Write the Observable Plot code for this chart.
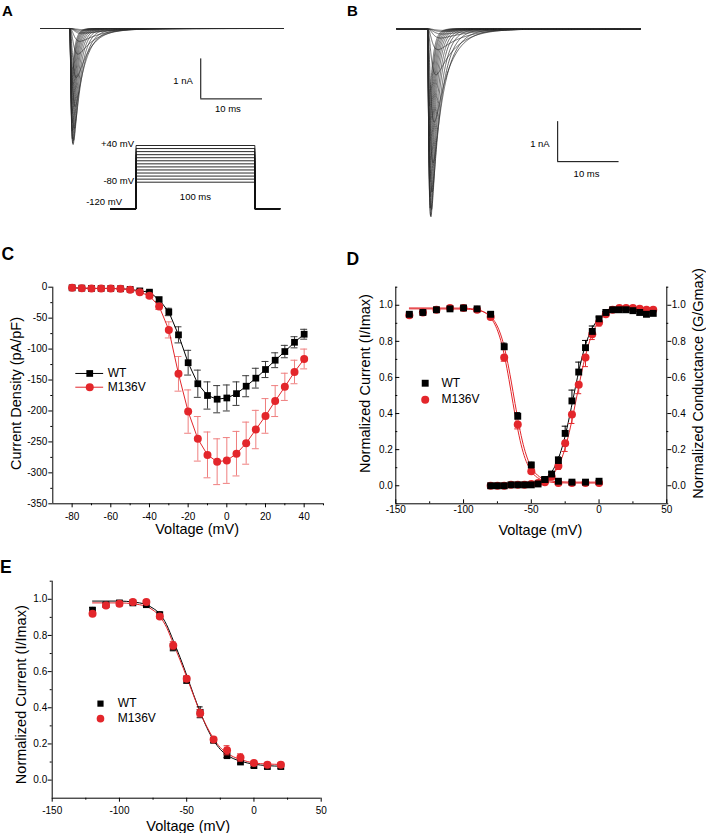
<!DOCTYPE html>
<html><head><meta charset="utf-8">
<script src="https://cdn.jsdelivr.net/npm/d3@7"></script>
<script src="https://cdn.jsdelivr.net/npm/@observablehq/plot@0.6"></script>
<style>
html,body{margin:0;padding:0;background:#fff;}
#fig{position:relative;width:706px;height:833px;overflow:hidden;font-family:"Liberation Sans",Arial,sans-serif;background:#fff;}
#fig > .panel{position:absolute;}
.plabel{position:absolute;font-weight:bold;line-height:1;font-family:"Liberation Sans",Arial,sans-serif;}
</style></head><body><div id="fig"></div>
<script>
// ---------------- DATA ----------------
const seriesNames = ["WT", "M136V"];
const panelLetters = ["A", "B", "C", "D", "E"];

// Panels A/B: current-trace families (one entry per test pulse)
const traceAmpA = [0.03,0.06,0.1,0.13,0.32,0.64,1.23,1.95,2.5,2.8,2.9,2.87,2.76,2.56,2.36,2.13,1.89,1.67,1.43,1.22];
const traceAmpB = [0.04,0.07,0.13,0.23,0.52,1.15,2.33,3.35,4.08,4.52,4.7,4.67,4.48,4.2,3.83,3.47,3.07,2.68,2.28,1.93];
const traceTauM = [0.9,0.85,0.8,0.7,0.55,0.45,0.36,0.3,0.25,0.22,0.19,0.17,0.15,0.14,0.13,0.12,0.11,0.1,0.1,0.09];
const traceTauHA = [6,5.5,5,4.2,3.4,2.7,2.1,1.65,1.35,1.12,0.97,0.86,0.78,0.72,0.66,0.62,0.58,0.55,0.52,0.5];
const traceTauHB = [7,6.3,5.7,4.8,3.9,3.1,2.4,1.9,1.55,1.3,1.12,1.0,0.9,0.82,0.76,0.71,0.67,0.63,0.6,0.57];
const scaleBarText = ["1 nA", "10 ms"];
// voltage protocol
const protocolLevels = [-80,-70,-60,-50,-40,-30,-20,-10,0,10,20,30,40];
const protocolHolding = -120;
const protocolDuration = 100;
const protocolTexts = ["+40 mV", "-80 mV", "-120 mV", "100 ms"];

// Panel C: I-V
const ivVoltage = [-80,-75,-70,-65,-60,-55,-50,-45,-40,-35,-30,-25,-20,-15,-10,-5,0,5,10,15,20,25,30,35,40];
const ivWT = [-1,-1.5,-2,-2,-2,-2.5,-3.5,-6,-8,-20,-40,-77,-122,-156,-175,-181,-179,-172,-160,-147,-133,-118,-104,-89,-76];
const ivWTerr = [0.5,0.5,0.5,0.5,0.5,0.5,1,2,2,3,6,13,20,22,22,22,21,19,17,16,13,12,10,9,8];
const ivM136V = [-1,-1.5,-2,-2,-2,-2.5,-4,-8,-14,-31,-69,-140,-201,-245,-271,-282,-280,-269,-252,-230,-208,-184,-161,-137,-116];
const ivM136Verr = [0.5,0.5,0.5,0.5,0.5,0.5,1,2,3,5,13,28,35,36,37,37,37,36,34,31,28,25,22,19,16];
const cYTicks = [-350,-300,-250,-200,-150,-100,-50,0];
const cYMinor = [-325,-275,-225,-175,-125,-75,-25];
const cXTicks = [-80,-60,-40,-20,0,20,40];
const cXMinor = [-70,-50,-30,-10,10,30,50];

// Panel D: steady-state inactivation and activation
const inactV = [-140,-130,-120,-110,-100,-90,-80,-70,-60,-50,-40,-30,-20,-10,0];
const inactWT = [0.95,0.96,0.975,0.98,0.985,0.98,0.95,0.77,0.385,0.115,0.035,0.025,0.02,0.02,0.025];
const inactWTerr = [0.01,0.005,0.005,0.005,0.005,0.005,0.01,0.02,0.02,0.015,0.01,0.005,0.005,0.005,0.005];
const inactM136V = [0.945,0.96,0.975,0.985,0.985,0.975,0.935,0.71,0.34,0.08,0.02,0.015,0.015,0.015,0.015];
const inactM136Verr = [0.01,0.005,0.005,0.005,0.005,0.005,0.01,0.02,0.025,0.01,0.005,0.005,0.005,0.005,0.005];
const actV = [-80,-75,-70,-65,-60,-55,-50,-45,-40,-35,-30,-25,-20,-15,-10,-5,0,5,10,15,20,25,30,35,40];
const actWT = [0,0,0,0.005,0.005,0.005,0.005,0.01,0.035,0.065,0.14,0.29,0.47,0.63,0.765,0.855,0.925,0.96,0.975,0.975,0.975,0.97,0.96,0.95,0.955];
const actWTerr = [0.005,0.005,0.005,0.005,0.005,0.005,0.005,0.005,0.005,0.01,0.02,0.04,0.06,0.055,0.04,0.03,0.01,0.005,0.005,0.005,0.005,0.005,0.005,0.005,0.005];
const actM136V = [0,0,0,0.005,0.005,0.005,0.01,0.015,0.025,0.05,0.11,0.235,0.395,0.56,0.71,0.84,0.905,0.95,0.975,0.985,0.985,0.985,0.98,0.975,0.975];
const actM136Verr = [0.005,0.005,0.005,0.005,0.005,0.005,0.005,0.005,0.005,0.015,0.02,0.045,0.05,0.05,0.05,0.03,0.02,0.005,0.005,0.005,0.005,0.005,0.005,0.005,0.005];
// Boltzmann fit curves
const fitInactWTV = [-140,-100,-90,-85,-80,-77,-74,-71,-68,-65,-62,-59,-56,-53,-50,-47,-44,-40,-35,-30,-20,0];
const fitInactWT = [0.98,0.979,0.973,0.963,0.938,0.91,0.866,0.799,0.704,0.586,0.456,0.333,0.23,0.154,0.103,0.07,0.05,0.035,0.026,0.022,0.02,0.02];
const fitInactMV_V = [-140,-101.5,-91.5,-86.5,-81.5,-78.5,-75.5,-72.5,-69.5,-66.5,-63.5,-60.5,-57.5,-54.5,-51.5,-48.5,-45.5,-41.5,-36.5,-31.5,-21.5,0];
const fitInactM136V = [0.985,0.984,0.978,0.968,0.943,0.915,0.871,0.804,0.708,0.589,0.457,0.332,0.227,0.15,0.099,0.065,0.045,0.03,0.021,0.017,0.015,0.015];
const fitActV = [-40,-37,-34,-31,-28,-25,-22,-19,-16,-13,-10,-7,-4,-1,2,5,10,15,20,30,40];
const fitActWT = [0.037,0.058,0.088,0.133,0.195,0.277,0.377,0.488,0.598,0.698,0.78,0.842,0.887,0.917,0.938,0.951,0.964,0.97,0.973,0.975,0.975];
const fitActM136V = [0.026,0.04,0.062,0.096,0.143,0.21,0.296,0.399,0.511,0.622,0.72,0.80,0.859,0.902,0.931,0.95,0.969,0.977,0.981,0.984,0.985];
const nTicks = [0,0.2,0.4,0.6,0.8,1.0];
const nMinor = [-0.1,0.1,0.3,0.5,0.7,0.9,1.1];
const vTicks = [-150,-100,-50,0,50];
const vMinor = [-125,-75,-25,25];

// Panel E
const eV = [-120,-110,-100,-90,-80,-70,-60,-50,-40,-30,-20,-10,0,10,20];
const eWT = [0.94,0.97,0.98,0.98,0.97,0.915,0.735,0.555,0.375,0.22,0.135,0.10,0.08,0.075,0.075];
const eWTerr = [0.015,0.01,0.01,0.01,0.01,0.015,0.02,0.02,0.03,0.01,0.01,0.01,0.01,0.01,0.01];
const eM136V = [0.92,0.965,0.975,0.985,0.985,0.905,0.745,0.56,0.37,0.225,0.165,0.125,0.095,0.085,0.085];
const eM136Verr = [0.01,0.01,0.01,0.01,0.01,0.01,0.02,0.015,0.02,0.01,0.025,0.02,0.01,0.01,0.01];
const fitEV = [-120,-100,-90,-80,-75,-70,-65,-60,-55,-50,-45,-40,-35,-30,-25,-20,-15,-10,-5,0,10,20];
const fitEWT = [0.99,0.99,0.985,0.97,0.95,0.92,0.86,0.772,0.68,0.58,0.475,0.377,0.29,0.22,0.17,0.138,0.118,0.105,0.095,0.088,0.08,0.077];
const fitEM136V = [0.98,0.98,0.975,0.96,0.94,0.905,0.845,0.755,0.665,0.57,0.47,0.375,0.295,0.23,0.18,0.149,0.128,0.114,0.103,0.095,0.089,0.087];

const titleCurrentDensity = "Current Density (pA/pF)";
const titleVoltage = "Voltage (mV)";
const titleNormI = "Normalized Current (I/Imax)";
const titleNormG = "Normalized Conductance (G/Gmax)";

// ---------------- HELPERS ----------------
const RED = "#e3262b";
const FONT = '"Liberation Sans", Arial, sans-serif';
const fig = document.getElementById("fig");
function place(node, left, top) {
  node.classList.add("panel");
  node.style.left = left + "px"; node.style.top = top + "px";
  fig.appendChild(node);
}
const baseStyle = {fontFamily: FONT, fontSize: "10px", color: "black", background: "transparent", overflow: "visible"};
const zip = (xs, ys, es) => xs.map((x, i) => ({x, y: ys[i], e: es ? es[i] : 0}));
const fmt1 = d => d.toFixed(1);
const title = (s, o) => Plot.text([s], {text: d => d, textAnchor: "middle", lineAnchor: "middle", fontSize: 14.5, ...o});

function buildTraces(amps, tauM, tauH, t0, t1) {
  const times = [t0];
  for (let t = -1; t < 0; t += 0.5) times.push(t);
  for (let k = 0; k < 150; k++) times.push(k * 0.02);
  for (let k = 0; k < 90; k++) times.push(3 + k * 0.1);
  for (let t = 12; t < t1; t += 0.5) times.push(t);
  times.push(t1);
  const out = [];
  amps.forEach((A, k) => {
    const f = t => t <= 0 ? 0 : Math.pow(1 - Math.exp(-t / tauM[k]), 3) * Math.exp(-t / tauH[k]);
    let mx = 0; for (const t of times) mx = Math.max(mx, f(t));
    for (const t of times) out.push({trace: k, t, i: -A * f(t) / mx});
  });
  return out;
}

function errorBars(data, {stroke, cap, up = true, down = true, sw = 1}) {
  const lo = d => down ? d.y - d.e : d.y;
  const hi = d => up ? d.y + d.e : d.y;
  const m = [Plot.ruleX(data, {x: "x", y1: lo, y2: hi, stroke, strokeWidth: sw})];
  if (up) m.push(Plot.ruleY(data, {y: hi, x1: d => d.x - cap, x2: d => d.x + cap, stroke, strokeWidth: sw}));
  if (down) m.push(Plot.ruleY(data, {y: lo, x1: d => d.x - cap, x2: d => d.x + cap, stroke, strokeWidth: sw}));
  return m;
}

// ---------------- PANEL A ----------------
const tracesA = buildTraces(traceAmpA, traceTauM, traceTauHA, -4.75, 34.6);
place(Plot.plot({
  width: 353, height: 230, marginLeft: 40, marginRight: 70, marginTop: 0, marginBottom: 0,
  style: baseStyle,
  x: {domain: [-4.75, 34.6], axis: null},
  y: {domain: [-5.05, 0.7], axis: null},
  marks: [
    Plot.line(tracesA, {x: "t", y: "i", z: "trace", stroke: "#2a2a2a", strokeWidth: 0.7}),
    Plot.ruleX([21.2], {y1: -0.76, y2: -1.76, stroke: "black", strokeWidth: 1}),
    Plot.ruleY([-1.76], {x1: 21.2, x2: 31.2, stroke: "black", strokeWidth: 1}),
    Plot.text([scaleBarText[0]], {text: d => d, x: 21.2, y: -1.3, textAnchor: "end", dx: -8, fontSize: 9.5}),
    Plot.text([scaleBarText[1]], {text: d => d, x: 25.6, y: -1.76, dy: 10.5, fontSize: 9.5})
  ]
}), 0, 0);

// voltage protocol overlay (schematic: the holding step is drawn expanded, as in the figure)
const protoWarp = v => v >= -80 ? v : -80 + (v + 80) * 2.1747;
const protoPaths = protocolLevels.flatMap((v, k) => [
  {k, t: -21.5, v: protocolHolding}, {k, t: 0, v: protocolHolding}, {k, t: 0, v},
  {k, t: protocolDuration, v}, {k, t: protocolDuration, v: protocolHolding}, {k, t: 121, v: protocolHolding}
]);
place(Plot.plot({
  width: 353, height: 230, marginLeft: 110, marginRight: 73.7, marginTop: 145, marginBottom: 21.7,
  style: baseStyle,
  x: {domain: [-21.5, 121], axis: null},
  y: {domain: [protoWarp(-120), 40], axis: null},
  marks: [
    Plot.line(protoPaths, {x: "t", y: d => protoWarp(d.v), z: "k", stroke: "#111", strokeWidth: 0.9}),
    Plot.text([protocolTexts[0]], {text: d => d, x: 0, y: protoWarp(40), textAnchor: "end", dx: -2, dy: -2, fontSize: 9.5}),
    Plot.text([protocolTexts[1]], {text: d => d, x: 0, y: protoWarp(-80), textAnchor: "end", dx: -2, dy: -1, fontSize: 9.5}),
    Plot.text([protocolTexts[2]], {text: d => d, x: 0, y: protoWarp(protocolHolding), textAnchor: "end", dx: -14, dy: -6.5, fontSize: 9.5}),
    Plot.text([protocolTexts[3]], {text: d => d, x: protocolDuration / 2, y: protoWarp(protocolHolding), dy: -11.6, fontSize: 9.5})
  ]
}), 0, 0);

// ---------------- PANEL B ----------------
const tracesB = buildTraces(traceAmpB, traceTauM, traceTauHB, -5.0, 34.64);
place(Plot.plot({
  width: 353, height: 230, marginLeft: 43.3, marginRight: 66.3, marginTop: 0, marginBottom: 0,
  style: baseStyle,
  x: {domain: [-5.0, 34.64], axis: null},
  y: {domain: [-5.04, 0.7075], axis: null},
  marks: [
    Plot.line(tracesB, {x: "t", y: "i", z: "trace", stroke: "#2a2a2a", strokeWidth: 0.7}),
    Plot.ruleX([21.2], {y1: -2.32, y2: -3.32, stroke: "black", strokeWidth: 1}),
    Plot.ruleY([-3.32], {x1: 21.2, x2: 31.2, stroke: "black", strokeWidth: 1}),
    Plot.text([scaleBarText[0]], {text: d => d, x: 21.2, y: -2.87, textAnchor: "end", dx: -8, fontSize: 9.5}),
    Plot.text([scaleBarText[1]], {text: d => d, x: 25.9, y: -3.32, dy: 12, fontSize: 9.5})
  ]
}), 353, 0);

// ---------------- PANEL C ----------------
const cWT = zip(ivVoltage, ivWT, ivWTerr);
const cMV = zip(ivVoltage, ivM136V, ivM136Verr);
const cPxX = 270.7 / 140, cPxY = 216.6 / 350;
place(Plot.plot({
  width: 353, height: 300, marginLeft: 52.3, marginRight: 30, marginTop: 46.7, marginBottom: 36.7,
  style: baseStyle,
  x: {domain: [-90, 50]},
  y: {domain: [-350, 0]},
  marks: [
    Plot.ruleX([-90], {stroke: "black", strokeWidth: 1}),
    Plot.ruleY([-350], {stroke: "black", strokeWidth: 1}),
    Plot.axisY({ticks: cYTicks, tickSize: 4, tickPadding: 1.5, tickFormat: d => String(d), label: null}),
    Plot.ruleY(cYMinor, {y: d => d, x1: -90, x2: -90 - 2 / cPxX, stroke: "black"}),
    Plot.axisX({ticks: cXTicks, tickSize: 4, tickPadding: 5, tickFormat: d => String(d), label: null}),
    Plot.ruleX(cXMinor, {x: d => d, y1: -350, y2: -350 - 2 / cPxY, stroke: "black"}),
    ...errorBars(cWT, {stroke: "#3a3a3a", cap: 1.8}),
    Plot.line(cWT, {x: "x", y: "y", stroke: "black", strokeWidth: 1}),
    Plot.dot(cWT, {x: "x", y: "y", symbol: "square", r: 3.8, fill: "black", stroke: "none"}),
    ...errorBars(cMV, {stroke: "#ef7f7f", cap: 1.8}),
    Plot.line(cMV, {x: "x", y: "y", stroke: RED, strokeWidth: 1}),
    Plot.dot(cMV, {x: "x", y: "y", symbol: "circle", r: 4, fill: RED, stroke: "none"}),
    // legend
    Plot.ruleY([-139.4], {x1: -78.1, x2: -63.7, stroke: "black", strokeWidth: 1}),
    Plot.dot([seriesNames[0]], {x: -70.9, y: -139.4, symbol: "square", r: 3.8, fill: "black", stroke: "none"}),
    Plot.text([seriesNames[0]], {text: d => d, x: -61.6, y: -139.4, textAnchor: "start", fontSize: 12}),
    Plot.ruleY([-161.6], {x1: -78.1, x2: -63.7, stroke: RED, strokeWidth: 1}),
    Plot.dot([seriesNames[1]], {x: -70.9, y: -161.6, symbol: "circle", r: 4, fill: RED, stroke: "none"}),
    Plot.text([seriesNames[1]], {text: d => d, x: -61.6, y: -161.6, textAnchor: "start", fontSize: 12}),
    // titles
    title(titleCurrentDensity, {frameAnchor: "left", dx: -36.5, dy: -2, rotate: -90}),
    title(titleVoltage, {frameAnchor: "bottom", dx: 9, dy: 25.7})
  ]
}), 0, 240);

// ---------------- PANEL D ----------------
const dPxX = 271 / 200, dPxY = 216.6 / 1.2;
const dInWT = zip(inactV, inactWT, inactWTerr);
const dInMV = zip(inactV, inactM136V, inactM136Verr);
const dAcWT = zip(actV, actWT, actWTerr);
const dAcMV = zip(actV, actM136V, actM136Verr);
place(Plot.plot({
  width: 353, height: 300, marginLeft: 42.3, marginRight: 39.7, marginTop: 46.7, marginBottom: 36.7,
  style: baseStyle,
  x: {domain: [-150, 50]},
  y: {domain: [-0.1, 1.1]},
  marks: [
    Plot.ruleX([-150], {stroke: "black"}),
    Plot.ruleX([50], {stroke: "black"}),
    Plot.ruleY([-0.1], {stroke: "black"}),
    Plot.axisY({anchor: "left", ticks: nTicks, tickSize: 0, tickPadding: 3, tickFormat: fmt1, label: null}),
    Plot.ruleY(nTicks, {y: d => d, x1: -150, x2: -150 + 4 / dPxX, stroke: "black"}),
    Plot.ruleY(nMinor, {y: d => d, x1: -150, x2: -150 + 2 / dPxX, stroke: "black"}),
    Plot.axisY({anchor: "right", ticks: nTicks, tickSize: 4, tickPadding: 1, tickFormat: fmt1, label: null}),
    Plot.ruleY(nMinor, {y: d => d, x1: 50, x2: 50 + 2 / dPxX, stroke: "black"}),
    Plot.axisX({ticks: vTicks, tickSize: 0, tickPadding: 2, tickFormat: d => String(d), label: null}),
    Plot.ruleX(vTicks, {x: d => d, y1: -0.1, y2: -0.1 + 4 / dPxY, stroke: "black"}),
    Plot.ruleX(vMinor, {x: d => d, y1: -0.1, y2: -0.1 + 2 / dPxY, stroke: "black"}),
    // fits
    Plot.line(zip(fitInactWTV, fitInactWT), {x: "x", y: "y", curve: "monotone-x", stroke: RED, strokeWidth: 1}),
    Plot.line(zip(fitInactMV_V, fitInactM136V), {x: "x", y: "y", curve: "monotone-x", stroke: RED, strokeWidth: 1}),
    Plot.line(zip(fitActV, fitActWT), {x: "x", y: "y", curve: "monotone-x", stroke: "black", strokeWidth: 1}),
    Plot.line(zip(fitActV, fitActM136V), {x: "x", y: "y", curve: "monotone-x", stroke: RED, strokeWidth: 1}),
    // M136V points
    ...errorBars(dInMV, {stroke: RED, cap: 2.2, up: false}),
    ...errorBars(dAcMV, {stroke: RED, cap: 2.2, up: false}),
    Plot.dot(dInMV, {x: "x", y: "y", symbol: "circle", r: 4, fill: RED, stroke: "none"}),
    Plot.dot(dAcMV, {x: "x", y: "y", symbol: "circle", r: 4, fill: RED, stroke: "none"}),
    // WT points
    ...errorBars(dInWT, {stroke: "black", cap: 2.2, down: false}),
    ...errorBars(dAcWT, {stroke: "black", cap: 2.2, down: false}),
    Plot.dot(dInWT, {x: "x", y: "y", symbol: "square", r: 3.9, fill: "black", stroke: "none"}),
    Plot.dot(dAcWT, {x: "x", y: "y", symbol: "square", r: 3.9, fill: "black", stroke: "none"}),
    // legend
    Plot.dot([seriesNames[0]], {x: -128.3, y: 0.568, symbol: "square", r: 3.9, fill: "black", stroke: "none"}),
    Plot.text([seriesNames[0]], {text: d => d, x: -116.3, y: 0.568, textAnchor: "start", fontSize: 12}),
    Plot.dot([seriesNames[1]], {x: -128.3, y: 0.477, symbol: "circle", r: 4, fill: RED, stroke: "none"}),
    Plot.text([seriesNames[1]], {text: d => d, x: -116.3, y: 0.477, textAnchor: "start", fontSize: 12}),
    // titles
    title(titleNormI, {frameAnchor: "left", dx: -30.6, dy: -12, rotate: -90}),
    title(titleNormG, {frameAnchor: "right", dx: 31.5, dy: -12, rotate: -90}),
    title(titleVoltage, {frameAnchor: "bottom", dx: 9, dy: 27})
  ]
}), 353, 240);

// ---------------- PANEL E ----------------
const ePxX = 269 / 200, ePxY = 217 / 1.2;
const eWTd = zip(eV, eWT, eWTerr);
const eMVd = zip(eV, eM136V, eM136Verr);
place(Plot.plot({
  width: 353, height: 293, marginLeft: 51.7, marginRight: 32.3, marginTop: 40.7, marginBottom: 35.3,
  style: baseStyle,
  x: {domain: [-150, 50]},
  y: {domain: [-0.1, 1.1]},
  marks: [
    Plot.ruleX([-150], {stroke: "black"}),
    Plot.ruleY([-0.1], {stroke: "black"}),
    Plot.axisY({ticks: nTicks, tickSize: 4, tickPadding: 1, tickFormat: fmt1, label: null}),
    Plot.ruleY(nMinor.filter(d => d > -0.1), {y: d => d, x1: -150, x2: -150 - 2 / ePxX, stroke: "black"}),
    Plot.axisX({ticks: vTicks, tickSize: 4, tickPadding: 5, tickFormat: d => String(d), label: null}),
    Plot.ruleX(vMinor, {x: d => d, y1: -0.1, y2: -0.1 - 2 / ePxY, stroke: "black"}),
    Plot.line(zip(fitEV, fitEWT), {x: "x", y: "y", curve: "monotone-x", stroke: "black", strokeWidth: 1}),
    Plot.line(zip(fitEV, fitEM136V), {x: "x", y: "y", curve: "monotone-x", stroke: RED, strokeWidth: 1}),
    ...errorBars(eWTd, {stroke: "black", cap: 2.2}),
    Plot.dot(eWTd, {x: "x", y: "y", symbol: "square", r: 3.8, fill: "black", stroke: "none"}),
    ...errorBars(eMVd, {stroke: RED, cap: 2.2}),
    Plot.dot(eMVd, {x: "x", y: "y", symbol: "circle", r: 4, fill: RED, stroke: "none"}),
    // legend
    Plot.dot([seriesNames[0]], {x: -114.1, y: 0.423, symbol: "square", r: 3.5, fill: "black", stroke: "none"}),
    Plot.text([seriesNames[0]], {text: d => d, x: -101.2, y: 0.423, textAnchor: "start", fontSize: 12}),
    Plot.dot([seriesNames[1]], {x: -114.1, y: 0.34, symbol: "circle", r: 3.8, fill: RED, stroke: "none"}),
    Plot.text([seriesNames[1]], {text: d => d, x: -101.2, y: 0.34, textAnchor: "start", fontSize: 12}),
    title(titleNormI, {frameAnchor: "left", dx: -31, dy: 5, rotate: -90}),
    title(titleVoltage, {frameAnchor: "bottom", dx: 1.5, dy: 28})
  ]
}), 0, 540);

// ---------------- PANEL LETTERS ----------------
const letterPos = [[2, 3.3, 15], [347, 3.3, 15], [1.5, 245.9, 17.5], [346.5, 251.2, 17.5], [0, 558.5, 17.5]];
panelLetters.forEach((L, k) => {
  const d = document.createElement("div");
  d.className = "plabel";
  d.textContent = L;
  d.style.left = letterPos[k][0] + "px";
  d.style.top = letterPos[k][1] + "px";
  d.style.fontSize = letterPos[k][2] + "px";
  fig.appendChild(d);
});
</script>
</body></html>
